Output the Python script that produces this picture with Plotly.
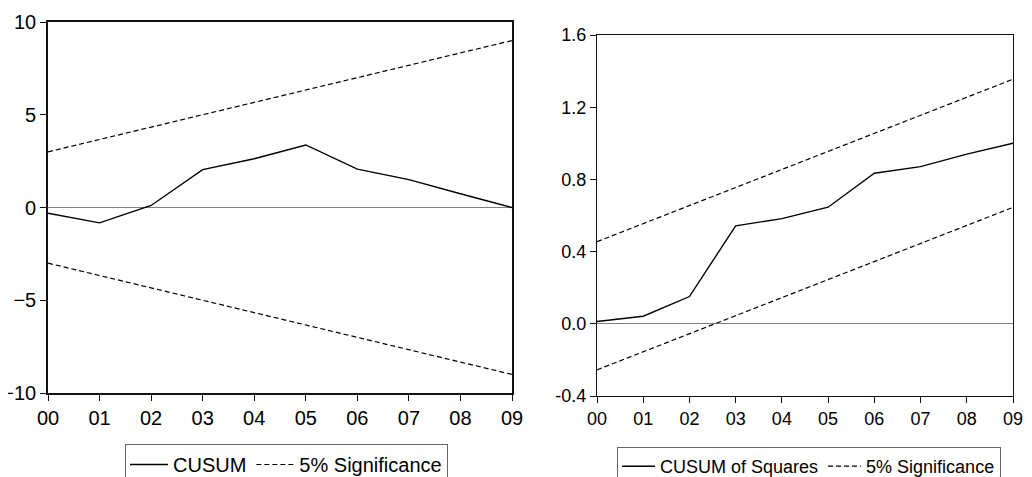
import plotly.graph_objects as go

years = ["00", "01", "02", "03", "04", "05", "06", "07", "08", "09"]

cusum = [-0.31, -0.83, 0.11, 2.04, 2.63, 3.37, 2.07, 1.50, 0.74, 0.00]
cusum_upper = [3.0, 3.667, 4.333, 5.0, 5.667, 6.333, 7.0, 7.667, 8.333, 9.0]
cusum_lower = [-3.0, -3.667, -4.333, -5.0, -5.667, -6.333, -7.0, -7.667, -8.333, -9.0]

cusumsq = [0.013, 0.042, 0.151, 0.543, 0.583, 0.646, 0.834, 0.871, 0.94, 1.0]
sq_upper = [0.455, 0.555, 0.655, 0.755, 0.855, 0.955, 1.055, 1.155, 1.255, 1.355]
sq_lower = [-0.255, -0.155, -0.055, 0.045, 0.145, 0.245, 0.345, 0.445, 0.545, 0.645]

left_yticks = [-10, -5, 0, 5, 10]
right_yticks = [-0.4, 0.0, 0.4, 0.8, 1.2, 1.6]
right_yticktext = ["-0.4", "0.0", "0.4", "0.8", "1.2", "1.6"]

FONT = "Liberation Sans, Arial, sans-serif"
DASH = "5px,3px"

fig = go.Figure()

# Left panel: CUSUM
fig.add_trace(go.Scatter(x=years, y=cusum, mode="lines", name="CUSUM",
                         line=dict(color="black", width=1.4),
                         xaxis="x", yaxis="y", legend="legend"))
fig.add_trace(go.Scatter(x=years, y=cusum_upper, mode="lines", name="5% Significance",
                         line=dict(color="black", width=1.2, dash=DASH),
                         legendgroup="sig1", xaxis="x", yaxis="y", legend="legend"))
fig.add_trace(go.Scatter(x=years, y=cusum_lower, mode="lines", name="5% Significance",
                         line=dict(color="black", width=1.2, dash=DASH),
                         legendgroup="sig1", showlegend=False,
                         xaxis="x", yaxis="y", legend="legend"))

# Right panel: CUSUM of Squares
fig.add_trace(go.Scatter(x=years, y=cusumsq, mode="lines", name="CUSUM of Squares",
                         line=dict(color="black", width=1.4),
                         xaxis="x2", yaxis="y2", legend="legend2"))
fig.add_trace(go.Scatter(x=years, y=sq_upper, mode="lines", name="5% Significance",
                         line=dict(color="black", width=1.2, dash=DASH),
                         legendgroup="sig2", xaxis="x2", yaxis="y2", legend="legend2"))
fig.add_trace(go.Scatter(x=years, y=sq_lower, mode="lines", name="5% Significance",
                         line=dict(color="black", width=1.2, dash=DASH),
                         legendgroup="sig2", showlegend=False,
                         xaxis="x2", yaxis="y2", legend="legend2"))

# page has an 8px body margin: figure coordinates = page coordinates - 8
OFF = 8
W, H = 1032 - 2 * OFF, 477 - OFF

def xdom(a, b):
    return [(a - OFF) / W, (b - OFF) / W]

def ydom(top, bottom):
    return [(H - (bottom - OFF)) / H, (H - (top - OFF)) / H]

def axis_style(size, lw):
    return dict(showline=True, mirror=True, linecolor="#111", linewidth=lw,
                ticks="outside", ticklen=6, tickcolor="#111",
                showgrid=False, tickfont=dict(family=FONT, size=size, color="black"))

def legend_style(size, iw):
    return dict(orientation="h", xanchor="left", yanchor="top",
                bordercolor="#666", borderwidth=1, bgcolor="white",
                font=dict(family=FONT, size=size, color="black"),
                itemwidth=iw, tracegroupgap=0)

fig.update_layout(
    width=W, height=H,
    paper_bgcolor="white", plot_bgcolor="white",
    margin=dict(l=0, r=0, t=0, b=0, autoexpand=False),
    font=dict(family=FONT, size=19, color="black"),
    xaxis=dict(domain=xdom(48, 512), anchor="y", type="category",
               range=[0, 9], zeroline=False, **axis_style(20, 1.6)),
    yaxis=dict(domain=ydom(22, 393), anchor="x", range=[-10, 10],
               tickvals=left_yticks,
               zeroline=True, zerolinecolor="#808080", zerolinewidth=1,
               **axis_style(20, 1.6)),
    xaxis2=dict(domain=xdom(597, 1013), anchor="y2", type="category",
                range=[0, 9], zeroline=False, **axis_style(18, 1.2)),
    yaxis2=dict(domain=ydom(35, 396), anchor="x2", range=[-0.4, 1.6],
                tickvals=right_yticks, ticktext=right_yticktext,
                zeroline=True, zerolinecolor="#808080", zerolinewidth=1,
                **axis_style(18, 1.2)),
    legend=dict(x=(125 - OFF) / W, y=(H - (444 - OFF)) / H, **legend_style(20, 38)),
    legend2=dict(x=(617 - OFF) / W, y=(H - (447 - OFF)) / H, **legend_style(18, 33)),
)

fig.write_html("out.html")
